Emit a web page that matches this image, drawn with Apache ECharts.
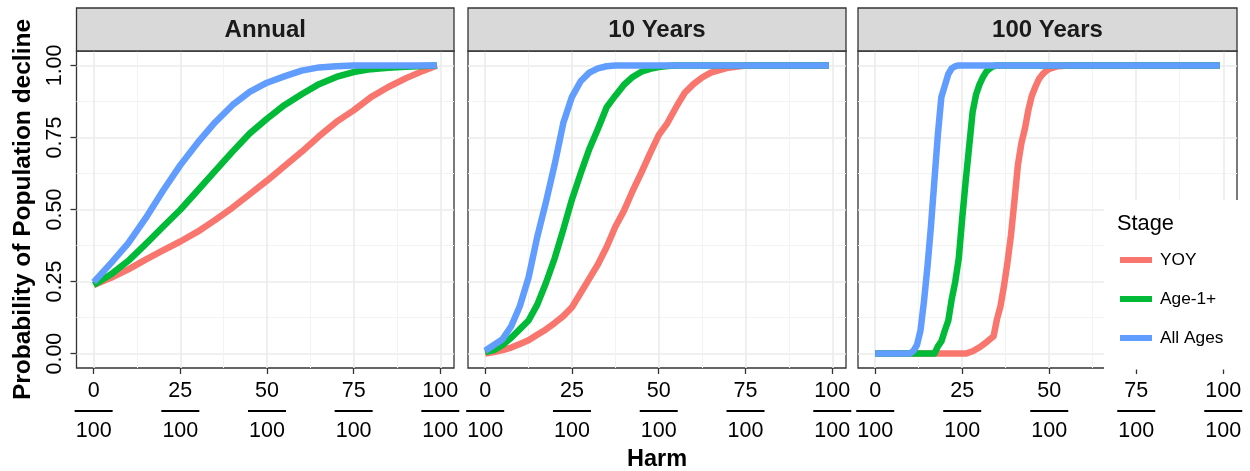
<!DOCTYPE html>
<html>
<head>
<meta charset="utf-8">
<script src="https://cdn.jsdelivr.net/npm/echarts@6/dist/echarts.min.js"></script>
<style>
html,body{margin:0;padding:0;background:#fff;}
#chart{width:1250px;height:471px;}
</style>
</head>
<body>
<div id="chart"></div>
<script>
// ---------- data ----------
var panels = ['Annual', '10 Years', '100 Years'];
var stages = ['YOY', 'Age-1+', 'All Ages'];
var stageColors = ['#F8766D', '#00BA38', '#619CFF'];
var xTicks = [0, 25, 50, 75, 100];
var xMinor = [12.5, 37.5, 62.5, 87.5];
var yTicks = [0, 0.25, 0.5, 0.75, 1];
var yMinor = [0.125, 0.375, 0.625, 0.875];

// Annual
var annualX     = [0,5,10,15,20,25,30,35,40,45,50,55,60,65,70,75,80,85,90,95,99];
var annualYOY   = [0.238,0.263,0.292,0.326,0.358,0.389,0.423,0.463,0.506,0.553,0.6,0.65,0.70,0.754,0.804,0.844,0.89,0.925,0.955,0.981,1.0];
var annualAge1  = [0.238,0.275,0.322,0.38,0.44,0.499,0.566,0.633,0.70,0.764,0.815,0.862,0.90,0.935,0.96,0.977,0.987,0.992,0.995,0.998,1];
var annualAll   = [0.248,0.314,0.383,0.47,0.565,0.654,0.732,0.802,0.862,0.908,0.94,0.962,0.982,0.993,0.997,1,1,1,1,1,1];

// 10 Years
var tenX    = [0,2.5,5,7.5,10,12.5,15,17.5,20,22.5,25,27.5,30,32.5,35,37.5,40,42.5,45,47.5,50,52.5,55,57.5,60,62.5,65,70,75,80,90,99];
var tenYOY  = [0,0.005,0.012,0.021,0.033,0.046,0.065,0.084,0.106,0.13,0.161,0.21,0.26,0.31,0.37,0.44,0.496,0.565,0.628,0.695,0.758,0.80,0.855,0.905,0.935,0.958,0.975,0.992,1,1,1,1];
var tenAge1 = [0.005,0.012,0.03,0.055,0.085,0.115,0.17,0.245,0.33,0.43,0.535,0.625,0.71,0.78,0.855,0.895,0.933,0.96,0.978,0.988,0.994,0.998,1,1,1,1,1,1,1,1,1,1];
var tenAll  = [0.01,0.03,0.05,0.095,0.165,0.264,0.405,0.525,0.655,0.80,0.891,0.945,0.975,0.99,0.997,1,1,1,1,1,1,1,1,1,1,1,1,1,1,1,1,1];

// 100 Years
var hundredAllX  = [0,10,11,12,13,14,15,16,17,18,19,20,21,22,23,24,99];
var hundredAll   = [0,0,0.01,0.03,0.08,0.18,0.3,0.44,0.6,0.76,0.89,0.93,0.97,0.99,0.997,1,1];
var hundredAgeX  = [0,17,18,19,20,21,22,23,24,25,26,27,28,29,30,31,32,33,34,35,99];
var hundredAge1  = [0,0,0.025,0.042,0.08,0.115,0.19,0.25,0.33,0.47,0.6,0.72,0.84,0.9,0.935,0.96,0.98,0.99,0.997,1,1];
var hundredYOYX  = [0,26,28,30,32,34,35,36,37,38,39,40,41,42,43,44,45,46,47,48,49,50,52,55,99];
var hundredYOY   = [0,0,0.008,0.022,0.04,0.06,0.12,0.165,0.235,0.316,0.41,0.53,0.655,0.73,0.78,0.845,0.895,0.925,0.952,0.968,0.98,0.988,0.996,1,1];

var panelData = [
  [[annualX, annualYOY], [annualX, annualAge1], [annualX, annualAll]],
  [[tenX, tenYOY], [tenX, tenAge1], [tenX, tenAll]],
  [[hundredYOYX, hundredYOY], [hundredAgeX, hundredAge1], [hundredAllX, hundredAll]]
];

// ---------- layout ----------
var gridLefts = [76.5, 468, 858];
var gridWidths = [377.5, 378, 379];
var gridTop = 51, gridHeight = 317;
var XMIN = -4.95, XMAX = 103.95, YMIN = -0.05, YMAX = 1.05;
var FONT = 'Liberation Sans, Arial, sans-serif';

var grids = [], xAxes = [], yAxes = [], series = [], graphics = [];

panels.forEach(function (name, i) {
  grids.push({
    left: gridLefts[i], top: gridTop, width: gridWidths[i], height: gridHeight,
    containLabel: false, outerBoundsMode: 'none',
    show: true, backgroundColor: '#ffffff', borderColor: '#333333', borderWidth: 1.3
  });
  // major x axis
  xAxes.push({
    type: 'value', gridIndex: i, min: XMIN, max: XMAX, position: 'bottom',
    axisLine: { show: false, onZero: false },
    axisTick: { show: true, customValues: xTicks, length: 6, lineStyle: { color: '#333333', width: 1.3 } },
    axisLabel: {
      show: true, customValues: xTicks, margin: 4.5,
      formatter: function (v) { return '{n|' + v + '}\n{l|}\n{d|100}'; },
      rich: {
        n: { fontSize: 21.5, lineHeight: 37.5, color: '#000', fontFamily: FONT, align: 'center' },
        l: { width: 38, height: 2, lineHeight: 2, backgroundColor: '#000', align: 'center' },
        d: { fontSize: 21.5, lineHeight: 38, color: '#000', fontFamily: FONT, align: 'center' }
      }
    },
    splitLine: { show: true, lineStyle: { color: '#EBEBEB', width: 1.6 } },
    name: i === 1 ? 'Harm' : '',
    nameLocation: 'middle', nameGap: 80,
    nameTextStyle: { fontSize: 23.5, fontWeight: 'bold', color: '#000', fontFamily: FONT }
  });
  // minor x axis
  xAxes.push({
    type: 'value', gridIndex: i, min: XMIN, max: XMAX, position: 'bottom',
    axisLine: { show: false, onZero: false },
    axisTick: { show: false, customValues: xMinor },
    axisLabel: { show: false },
    splitLine: { show: true, lineStyle: { color: '#F3F3F3', width: 1 } }
  });
  // major y axis
  yAxes.push({
    type: 'value', gridIndex: i, min: YMIN, max: YMAX, position: 'left',
    axisLine: { show: false, onZero: false },
    axisTick: { show: i === 0, customValues: yTicks, length: 6, lineStyle: { color: '#333333', width: 1.3 } },
    axisLabel: {
      show: i === 0, customValues: yTicks, rotate: 90, margin: 10,
      fontSize: 21.5, color: '#000', fontFamily: FONT,
      formatter: function (v) { return v.toFixed(2); }
    },
    splitLine: { show: true, lineStyle: { color: '#EBEBEB', width: 1.6 } },
    name: i === 0 ? 'Probability of Population decline' : '',
    nameLocation: 'middle', nameRotate: 90, nameGap: 41,
    nameTextStyle: { fontSize: 24.5, fontWeight: 'bold', color: '#000', fontFamily: FONT }
  });
  // minor y axis
  yAxes.push({
    type: 'value', gridIndex: i, min: YMIN, max: YMAX, position: 'left',
    axisLine: { show: false, onZero: false },
    axisTick: { show: false, customValues: yMinor },
    axisLabel: { show: false },
    splitLine: { show: true, lineStyle: { color: '#F3F3F3', width: 1 } }
  });

  stages.forEach(function (st, s) {
    var xs = panelData[i][s][0], ys = panelData[i][s][1];
    series.push({
      type: 'line', name: st, xAxisIndex: i * 2, yAxisIndex: i * 2,
      data: xs.map(function (x, k) { return [x, ys[k]]; }),
      showSymbol: false, symbol: 'none', smooth: false,
      color: stageColors[s],
      lineStyle: { color: stageColors[s], width: 6.5, cap: 'butt', join: 'round' },
      z: 3 + s, silent: true, animation: false
    });
  });

  // strip
  graphics.push({
    type: 'rect', z: 5,
    shape: { x: gridLefts[i], y: 8, width: gridWidths[i], height: gridTop - 8 },
    style: { fill: '#D9D9D9', stroke: '#333333', lineWidth: 1.3 }
  });
  graphics.push({
    type: 'text', z: 6,
    x: gridLefts[i] + gridWidths[i] / 2, y: 30,
    style: { text: name, fill: '#1A1A1A', font: 'bold 24px ' + FONT, textAlign: 'center', textVerticalAlign: 'middle' }
  });
});

// legend background and title
graphics.push({
  type: 'rect', z: 50,
  shape: { x: 1104, y: 200, width: 135, height: 169.5 },
  style: { fill: '#ffffff' }
});
graphics.push({
  type: 'text', z: 51, x: 1117, y: 224,
  style: { text: 'Stage', fill: '#000', font: '21.8px ' + FONT, textAlign: 'left', textVerticalAlign: 'middle' }
});

var chart = echarts.init(document.getElementById('chart'), null, { renderer: 'canvas' });
chart.setOption({
  animation: false,
  backgroundColor: '#ffffff',
  grid: grids,
  xAxis: xAxes,
  yAxis: yAxes,
  series: series,
  graphic: { elements: graphics },
  legend: {
    data: stages, orient: 'vertical', left: 1120, top: 250, z: 60,
    icon: 'rect', itemWidth: 32, itemHeight: 6, itemGap: 19,
    padding: 0, selectedMode: false,
    textStyle: { fontSize: 17.3, color: '#000', fontFamily: FONT, lineHeight: 20, padding: [0, 0, 0, 3] }
  }
});
</script>
</body>
</html>
